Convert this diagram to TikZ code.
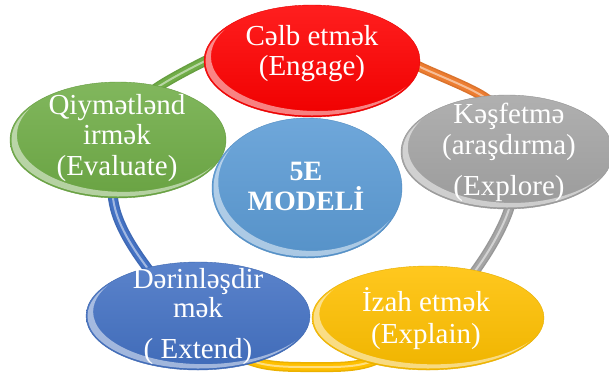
\documentclass[tikz,border=0pt]{standalone}
\usepackage{fontspec}
\setmainfont{Liberation Serif}
\usetikzlibrary{shapes.geometric}
\definecolor{cRed}{HTML}{FF0000}
\definecolor{cOrange}{HTML}{ED7D31}
\definecolor{cGray}{HTML}{A5A5A5}
\definecolor{cYellow}{HTML}{FFC000}
\definecolor{cDBlue}{HTML}{4472C4}
\definecolor{cGreen}{HTML}{70AD47}
\definecolor{cLBlue}{HTML}{5B9BD5}
\def\RingPath{plot[smooth cycle, tension=0.55] coordinates {(312,30) (365,40) (418,66) (487,99) (510,135) (514,168) (508,212) (480,264) (428,328) (370,362) (312,367) (255,362) (200,332) (143,262) (118,218) (112,180) (120,135) (147,95) (207,60) (260,38)}}
\tikzset{
  glossy/.style n args={3}{ellipse, inner sep=0pt,
    minimum width={2*#2pt}, minimum height={2*#3pt},
    top color=#1!88!white, middle color=#1, bottom color=#1!94!black,
    draw=#1!90!black, line width=0.4pt,
    path picture={
      \begin{scope}[shift={(path picture bounding box.center)}]
        \clip (0,0) ellipse [x radius={#2pt-1.5pt}, y radius={#3pt-1.5pt}];
        \fill[white, opacity=0.5, even odd rule]
          (-#2pt-5pt,-#3pt-5pt) rectangle (#2pt+5pt,#3pt+5pt)
          (0.05*#2pt,0.08*#3pt) ellipse [x radius={#2pt-1.5pt}, y radius={#3pt-1.5pt}];
      \end{scope}
    }},
  ringseg/.style={line width=10pt, draw=#1!92!black},
  ringmid/.style={line width=7pt, draw=#1},
  ringhi/.style={line width=2pt, draw=white, opacity=0.5},
  txt/.style={text=white, font=\fontsize{29}{31}\selectfont, anchor=base, inner sep=0pt},
  ctxt/.style={text=white, font=\bfseries\fontsize{28}{30}\selectfont, anchor=base, inner sep=0pt}
}
\begin{document}
\begin{tikzpicture}[x=1pt,y=-1pt]
\useasboundingbox (0,0) rectangle (609,376);
\fill[white] (0,0) rectangle (609,376);
\coordinate (C) at (312,200);
% ring segments
\begin{scope}
  \clip (C) -- (-468,-40) -- (-468,-356) -- (312,-356) -- cycle;
  \draw[ringseg=cGreen] \RingPath; \draw[ringmid=cGreen] \RingPath; \draw[ringhi] \RingPath;
\end{scope}
\begin{scope}
  \clip (C) -- (312,-356) -- (1092,-356) -- (1092,8) -- cycle;
  \draw[ringseg=cOrange] \RingPath; \draw[ringmid=cOrange] \RingPath; \draw[ringhi] \RingPath;
\end{scope}
\begin{scope}
  \clip (C) -- (1092,8) -- (1092,672) -- (776,672) -- cycle;
  \draw[ringseg=cGray] \RingPath; \draw[ringmid=cGray] \RingPath; \draw[ringhi] \RingPath;
\end{scope}
\begin{scope}
  \clip (C) -- (776,672) -- (-144,664) -- cycle;
  \draw[ringseg=cYellow] \RingPath; \draw[ringmid=cYellow] \RingPath; \draw[ringhi] \RingPath;
\end{scope}
\begin{scope}
  \clip (C) -- (-144,664) -- (-468,664) -- (-468,-40) -- cycle;
  \draw[ringseg=cDBlue] \RingPath; \draw[ringmid=cDBlue] \RingPath; \draw[ringhi] \RingPath;
\end{scope}
% ellipses
\node[glossy={cRed}{108}{56}] (red) at (312,61) {};
\node[glossy={cGray}{106}{57}] (gray) at (507,152) {};
\node[glossy={cDBlue}{112}{54}] (dblue) at (198,316) {};
\node[glossy={cYellow}{116}{52}] (yellow) at (428,318) {};
\node[glossy={cGreen}{108}{58}] (green) at (118,140) {};
\node[glossy={cLBlue}{95}{70}] (center) at (307,188) {};
% texts
\node[txt] (r1) at (312,45) {Cəlb etmək};
\node[txt] (r2) at (312,75) {(Engage)};
\node[txt] (g1) at (509,123) {Kəşfetmə};
\node[txt] (g2) at (509,154) {(araşdırma)};
\node[txt] (g3) at (509,195) {(Explore)};
\node[txt] (e1) at (117,114) {Qiymətlənd};
\node[txt] (e2) at (117,144) {irmək};
\node[txt] (e3) at (117,175) {(Evaluate)};
\node[txt] (d1) at (198,288) {Dərinləşdir};
\node[txt] (d2) at (198,317) {mək};
\node[txt] (d3) at (198,358) {( Extend)};
\node[txt] (y1) at (426,311) {İzah etmək};
\node[txt] (y2) at (426,343) {(Explain)};
\node[ctxt] (c1) at (306,180) {5E};
\node[ctxt] (c2) at (306,210) {MODELİ};
\end{tikzpicture}
\end{document}
